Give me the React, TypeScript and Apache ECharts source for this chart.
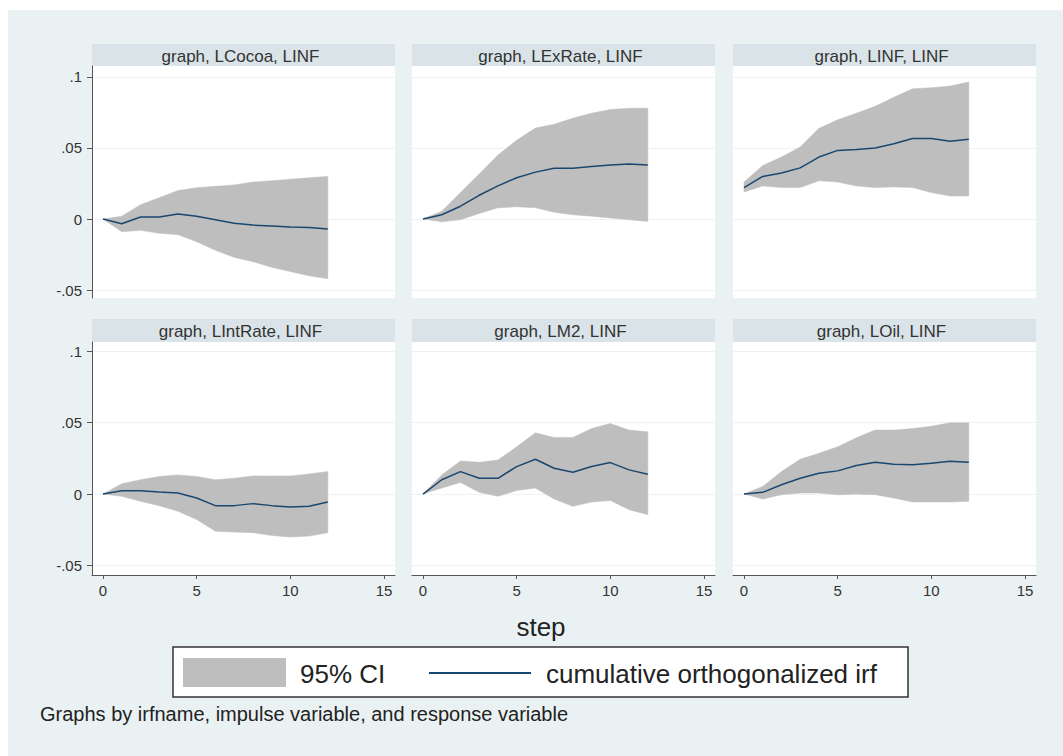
import React, { useEffect, useRef } from "react";
import * as echarts from "echarts";

// ---------- data ----------
const steps = [0, 1, 2, 3, 4, 5, 6, 7, 8, 9, 10, 11, 12];

const panelTitles = [
  "graph, LCocoa, LINF",
  "graph, LExRate, LINF",
  "graph, LINF, LINF",
  "graph, LIntRate, LINF",
  "graph, LM2, LINF",
  "graph, LOil, LINF",
];

const yTicks = [-0.05, 0, 0.05, 0.1];
const xTicks = [0, 5, 10, 15];

const cocoaIrf = [0, -0.0033, 0.0014, 0.0014, 0.0036, 0.002, -0.0005, -0.003, -0.0043, -0.005, -0.0057, -0.006, -0.007];
const cocoaHi = [0, 0.002, 0.01, 0.015, 0.02, 0.022, 0.023, 0.024, 0.026, 0.027, 0.028, 0.029, 0.03];
const cocoaLo = [0, -0.009, -0.008, -0.01, -0.011, -0.016, -0.022, -0.027, -0.03, -0.034, -0.037, -0.04, -0.042];

const exRateIrf = [0, 0.003, 0.009, 0.0167, 0.0233, 0.029, 0.033, 0.0357, 0.0357, 0.037, 0.038, 0.0388, 0.038];
const exRateHi = [0, 0.0055, 0.0186, 0.0317, 0.045, 0.0555, 0.064, 0.0667, 0.071, 0.0745, 0.077, 0.078, 0.078];
const exRateLo = [0, -0.002, -0.0005, 0.0038, 0.0079, 0.0086, 0.0079, 0.0048, 0.003, 0.002, 0.0007, -0.0005, -0.0017];

const infIrf = [0.0221, 0.03, 0.0324, 0.036, 0.0436, 0.0483, 0.049, 0.05, 0.053, 0.0567, 0.0567, 0.0548, 0.0562];
const infHi = [0.026, 0.0376, 0.0436, 0.0507, 0.0638, 0.0698, 0.0745, 0.0793, 0.0857, 0.0917, 0.0924, 0.0936, 0.0964];
const infLo = [0.019, 0.0233, 0.0221, 0.0221, 0.0269, 0.026, 0.0233, 0.0221, 0.0226, 0.0221, 0.0186, 0.0162, 0.0162];

const intRateIrf = [0, 0.0023, 0.0023, 0.0014, 0.0007, -0.0028, -0.0081, -0.0081, -0.0067, -0.0081, -0.009, -0.0086, -0.0056];
const intRateHi = [0, 0.0072, 0.01, 0.0123, 0.0134, 0.0123, 0.01, 0.0111, 0.0127, 0.0127, 0.0127, 0.0141, 0.0157];
const intRateLo = [0, -0.0016, -0.0051, -0.0081, -0.012, -0.0178, -0.026, -0.0266, -0.027, -0.029, -0.03, -0.0294, -0.027];

const m2Irf = [0, 0.01, 0.0157, 0.011, 0.011, 0.0192, 0.0243, 0.018, 0.0153, 0.0192, 0.022, 0.0169, 0.0139];
const m2Hi = [0, 0.0134, 0.0231, 0.0222, 0.0238, 0.033, 0.0428, 0.0396, 0.0396, 0.0458, 0.0493, 0.0447, 0.0435];
const m2Lo = [0, 0.0042, 0.0081, 0.0012, -0.0016, 0.0025, 0.0042, -0.0035, -0.0086, -0.0056, -0.0046, -0.0109, -0.0144];

const oilIrf = [0, 0.0012, 0.0065, 0.011, 0.0146, 0.0162, 0.02, 0.0222, 0.0208, 0.0204, 0.0215, 0.0229, 0.0222];
const oilHi = [0, 0.0053, 0.0157, 0.0243, 0.0285, 0.033, 0.0394, 0.0447, 0.0447, 0.0458, 0.0474, 0.0498, 0.0498];
const oilLo = [0, -0.0035, -0.0005, 0.0007, 0.0007, -0.0005, 0, -0.0005, -0.0028, -0.0056, -0.0056, -0.0056, -0.0051];

const panelIrf = [cocoaIrf, exRateIrf, infIrf, intRateIrf, m2Irf, oilIrf];
const panelHi = [cocoaHi, exRateHi, infHi, intRateHi, m2Hi, oilHi];
const panelLo = [cocoaLo, exRateLo, infLo, intRateLo, m2Lo, oilLo];

const legendCI = "95% CI";
const legendIrf = "cumulative orthogonalized irf";
const xTitle = "step";
const footnote = "Graphs by irfname, impulse variable, and response variable";

// ---------- layout / style ----------
const FONT = '"Liberation Sans", Arial, Helvetica, sans-serif';
const W = 1063;
const H = 756;
const colLeft = [92, 412, 733];
const colWidth = 303;
const rowTop = [66, 342];
const rowHeight = [232, 233];
const stripTop = [44, 319];
const stripHeight = [22, 23];
const rowYMin = [-0.0556, -0.0566];
const rowYMax = [0.1077, 0.1063];
const X_MIN = -0.587;
const X_MAX = 15.587;
const CI_COLOR = "#bebebe";
const LINE_COLOR = "#1a476f";
const AXIS_COLOR = "#555555";
const TEXT_COLOR = "#333333";

function fmtTick(v: number): string {
  return String(v).replace(/^(-?)0\./, "$1.");
}

// draws the whole confidence band as one polygon, through the axis scales
function renderBand(params: any, api: any) {
  if (params.dataIndexInside !== 0) return null;
  const n = params.dataInsideLength;
  const upper: number[][] = [];
  const lower: number[][] = [];
  for (let k = 0; k < n; k++) {
    const s = api.value(0, k);
    upper.push(api.coord([s, api.value(2, k)]));
    lower.push(api.coord([s, api.value(1, k)]));
  }
  const points = upper.concat(lower.reverse());
  return {
    type: "polygon",
    shape: { points },
    style: { fill: CI_COLOR, stroke: CI_COLOR, lineWidth: 0.5 },
  };
}

function buildOption() {
  const grids: any[] = [];
  const xAxes: any[] = [];
  const yAxes: any[] = [];
  const series: any[] = [];
  const graphics: any[] = [];

  for (let i = 0; i < 6; i++) {
    const row = Math.floor(i / 3);
    const col = i % 3;
    grids.push({
      left: colLeft[col],
      top: rowTop[row],
      width: colWidth,
      height: rowHeight[row],
      show: true,
      backgroundColor: "#ffffff",
      borderWidth: 0,
      containLabel: false,
    });
    const showX = row === 1;
    xAxes.push({
      gridIndex: i,
      type: "value",
      min: X_MIN,
      max: X_MAX,
      axisLine: { show: showX, onZero: false, lineStyle: { color: AXIS_COLOR, width: 1 } },
      axisTick: { show: showX, length: 4, customValues: xTicks, lineStyle: { color: AXIS_COLOR } },
      axisLabel: {
        show: showX,
        customValues: xTicks,
        margin: 8,
        color: TEXT_COLOR,
        fontFamily: FONT,
        fontSize: 15,
      },
      splitLine: { show: false },
    });
    const showY = col === 0;
    yAxes.push({
      gridIndex: i,
      type: "value",
      min: rowYMin[row],
      max: rowYMax[row],
      axisLine: { show: showY, onZero: false, lineStyle: { color: AXIS_COLOR, width: 1 } },
      axisTick: { show: showY, length: 5, customValues: yTicks, lineStyle: { color: AXIS_COLOR } },
      axisLabel: {
        show: showY,
        customValues: yTicks,
        margin: 10,
        color: TEXT_COLOR,
        fontFamily: FONT,
        fontSize: 15,
        formatter: (v: number) => fmtTick(v),
      },
      splitLine: { show: true, lineStyle: { color: "#eef2f4", width: 1 } },
    });

    const lo = panelLo[i];
    const hi = panelHi[i];
    const irf = panelIrf[i];
    series.push({
      name: legendCI,
      type: "custom",
      xAxisIndex: i,
      yAxisIndex: i,
      silent: true,
      clip: true,
      renderItem: renderBand,
      encode: { x: 0, y: [1, 2] },
      data: steps.map((s, k) => [s, lo[k], hi[k]]),
      z: 2,
    });
    series.push({
      name: legendIrf,
      type: "line",
      xAxisIndex: i,
      yAxisIndex: i,
      symbol: "none",
      silent: true,
      lineStyle: { color: LINE_COLOR, width: 1.5 },
      data: steps.map((s, k) => [s, irf[k]]),
      z: 3,
    });

    // title strip
    graphics.push({
      type: "rect",
      shape: { x: colLeft[col], y: stripTop[row], width: colWidth, height: stripHeight[row] },
      style: { fill: "#d9e3e8" },
    });
    graphics.push({
      type: "text",
      x: colLeft[col] + colWidth / 2 - 3,
      y: stripTop[row] + stripHeight[row] / 2 + 1,
      style: {
        text: panelTitles[i],
        fill: TEXT_COLOR,
        font: `17px ${FONT}`,
        textAlign: "center",
        textVerticalAlign: "middle",
      },
    });
  }

  // x-axis title
  graphics.push({
    type: "text",
    x: 541,
    y: 627,
    style: {
      text: xTitle,
      fill: "#222222",
      font: `26px ${FONT}`,
      textAlign: "center",
      textVerticalAlign: "middle",
    },
  });

  // legend box
  graphics.push({
    type: "rect",
    shape: { x: 173, y: 647, width: 735, height: 50 },
    style: { fill: "#ffffff", stroke: "#333333", lineWidth: 1.5 },
  });
  graphics.push({
    type: "rect",
    shape: { x: 183, y: 658, width: 103, height: 29 },
    style: { fill: CI_COLOR },
  });
  graphics.push({
    type: "text",
    x: 300,
    y: 674,
    style: {
      text: legendCI,
      fill: "#222222",
      font: `26px ${FONT}`,
      textAlign: "left",
      textVerticalAlign: "middle",
    },
  });
  graphics.push({
    type: "line",
    shape: { x1: 429, y1: 673, x2: 531, y2: 673 },
    style: { stroke: LINE_COLOR, lineWidth: 2 },
  });
  graphics.push({
    type: "text",
    x: 546,
    y: 674,
    style: {
      text: legendIrf,
      fill: "#222222",
      font: `26px ${FONT}`,
      textAlign: "left",
      textVerticalAlign: "middle",
    },
  });

  // footnote
  graphics.push({
    type: "text",
    x: 40,
    y: 714,
    style: {
      text: footnote,
      fill: "#222222",
      font: `20px ${FONT}`,
      textAlign: "left",
      textVerticalAlign: "middle",
    },
  });

  return {
    animation: false,
    backgroundColor: "transparent",
    grid: grids,
    xAxis: xAxes,
    yAxis: yAxes,
    series,
    graphic: { elements: graphics },
  };
}

export default function App() {
  const ref = useRef<HTMLDivElement | null>(null);
  useEffect(() => {
    if (!ref.current) return;
    const chart = echarts.init(ref.current, null, { renderer: "svg" });
    chart.setOption(buildOption() as any);
    return () => {
      chart.dispose();
    };
  }, []);
  return (
    <div
      style={{
        position: "absolute",
        left: 0,
        top: 0,
        width: W,
        height: H,
        background: "#ffffff",
        overflow: "hidden",
      }}
    >
      <div
        style={{
          position: "absolute",
          left: 8,
          top: 10,
          right: 0,
          bottom: 0,
          background: "#eaf1f3",
        }}
      />
      <div ref={ref} style={{ position: "absolute", left: 0, top: 0, width: W, height: H }} />
    </div>
  );
}
